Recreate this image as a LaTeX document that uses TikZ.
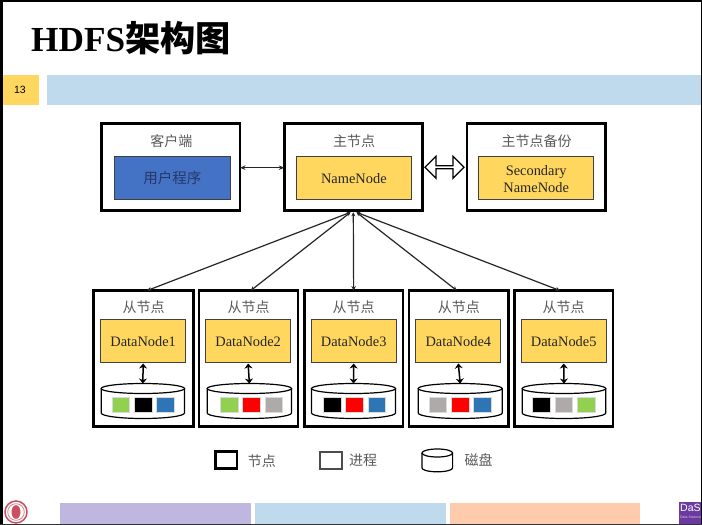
\documentclass[tikz,border=0pt]{standalone}
\usepackage{fontspec}
\setmainfont{Liberation Serif}
\setsansfont{Liberation Sans}
\newfontfamily\cjk{Noto Sans CJK SC}
\usetikzlibrary{arrows.meta,shapes.arrows}
\definecolor{gold}{HTML}{FFD75E}
\definecolor{bandblue}{HTML}{C0DAED}
\definecolor{appblue}{HTML}{4472C4}
\definecolor{apptext}{HTML}{26386B}
\definecolor{lav}{HTML}{BFB7E0}
\definecolor{peach}{HTML}{FFCBAD}
\definecolor{sgreen}{HTML}{92D050}
\definecolor{sblue}{HTML}{2E75B6}
\definecolor{sgray}{HTML}{AEAAAA}
\definecolor{lbl}{HTML}{5A5A5A}
\definecolor{seal}{HTML}{C8505F}
\definecolor{dasepurple}{HTML}{6B3AA0}
\tikzset{
  x=1pt,y=-1pt,
  outerbox/.style={draw=black,line width=2.7pt,fill=white,rectangle,inner sep=0pt,outer sep=0pt},
  procbox/.style={draw=black!75,line width=1pt,rectangle,inner sep=0pt,outer sep=0pt,align=center,text=black!85,font=\fontsize{14.4}{17.3}\selectfont},
  singleline/.style={text height=11.8pt,text depth=0pt},
  titlelbl/.style={font=\cjk\fontsize{14}{17}\selectfont,text=lbl,inner sep=0pt},
  dsk/.style={draw=black,line width=1.2pt,fill=white},
  conn/.style={draw=black!85,line width=1pt,{Stealth[length=5.5pt,width=4.5pt]}-{Stealth[length=5.5pt,width=4.5pt]}},
  fanconn/.style={draw=black!85,line width=1.2pt,{Stealth[length=4pt,width=4pt]}-{Stealth[length=4.5pt,width=4.5pt]}},
  vconn/.style={draw=black,line width=1.5pt,{Stealth[length=5pt,width=8pt]}-{Stealth[length=5pt,width=8pt]}},
  blockc/.style={draw=white!85!black,line width=.3pt,inner sep=0pt,outer sep=0pt,minimum width=17.6pt,minimum height=14.5pt,rectangle},
  band/.style={inner sep=0pt,outer sep=0pt,rectangle}
}
% box by corners: name, x1,y1,x2,y2, style
\newcommand{\boxat}[6]{\node[#6,minimum width={(#4)-(#2)},minimum height={(#5)-(#3)},anchor=north west] (#1) at (#2,#3) {};}
\newcommand{\disk}[3]{% name, x1, x2
  \path[dsk] (#2,388.5) -- (#2,413) arc[x radius={(#3-#2)/2},y radius=5.5,start angle=180,end angle=0] -- (#3,388.5);
  \draw[dsk] ({(#2+#3)/2},388.5) ellipse[x radius={(#3-#2)/2},y radius=5];
  \coordinate (#1) at ({(#2+#3)/2},383.5);}
\newcommand{\blocks}[7]{% x1 x2 x3 col1 col2 col3 prefix
  \node[blockc,fill=#4,anchor=north west] (#7a) at (#1,397.2) {};
  \node[blockc,fill=#5,anchor=north west] (#7b) at (#2,397.2) {};
  \node[blockc,fill=#6,anchor=north west] (#7c) at (#3,397.2) {};}
\newcommand{\dnode}[7]{% n x1 x2 ix1 ix2 dx1 dx2
  \boxat{out#1}{#2}{290.6}{#3}{426.4}{outerbox}
  \node[titlelbl] (ttl#1) at ({(#2+#3)/2},307.3) {从节点};
  \node[procbox,singleline,fill=gold,minimum width={(#5)-(#4)},minimum height=43.3pt,anchor=north west] (dn#1) at (#4,319.2) {DataNode#1};
  \disk{dsk#1}{#6}{#7}
  \draw[vconn] ([yshift=-1pt]dn#1.south) -- (dsk#1);
}
\begin{document}
\begin{tikzpicture}
\useasboundingbox (0,0) rectangle (702,525);
\fill[white] (0,0) rectangle (702,525);
% slide frame
\fill[black] (0,0) rectangle (702,2.2);
\fill[black] (0,0) rectangle (3,525);
\fill[black] (701,0) rectangle (702,525);
\fill[black!80] (0,523.5) rectangle (702,525);
% title
\node[anchor=base west,inner sep=0pt,font=\fontsize{35.2}{40}\selectfont\bfseries] (title) at (31,51) {HDFS{\cjk 架构图}};
% bands
\boxat{num}{3}{75.3}{39.3}{104.7}{band,fill=gold}
\node[font=\sffamily\fontsize{10.5}{12}\selectfont,inner sep=0pt] (numt) at (20,90) {13};
\boxat{topband}{46.7}{75.3}{701}{104.7}{band,fill=bandblue}
% top row
\boxat{client}{101.3}{123.8}{240}{210.8}{outerbox}
\node[titlelbl] (clientt) at (171.3,140.8) {客户端};
\node[procbox,fill=appblue,text=apptext,minimum width=115.7pt,minimum height=43pt,anchor=north west,font=\cjk\fontsize{14.5}{17}\selectfont] (app) at (114.5,156.2) {用户程序};
\boxat{master}{284.3}{123.8}{422.7}{210.8}{outerbox}
\node[titlelbl] (mastert) at (354,141) {主节点};
\node[procbox,singleline,fill=gold,minimum width=115.3pt,minimum height=43pt,anchor=north west] (nn) at (296.2,156.2) {NameNode};
\boxat{backup}{467}{123.8}{605.4}{210.8}{outerbox}
\node[titlelbl] (backupt) at (536.5,141.5) {主节点备份};
\node[procbox,fill=gold,minimum width=115.3pt,minimum height=43pt,anchor=north west] (snn) at (478.5,156.2) {\rule{0pt}{12.8pt}Secondary\\NameNode};
\coordinate (cr) at (client.east |- 0,167.7);
\coordinate (ml) at (master.west |- 0,167.7);
\draw[conn] (cr) -- (ml);
\node[shape=double arrow,draw=black,line width=1.3pt,fill=white,minimum width=22pt,double arrow head extend=4pt,minimum height=39pt,inner sep=0pt,outer sep=0pt] (dbl) at (444.5,167.3) {};
% data nodes
\dnode{1}{93.6}{193.4}{100.8}{185.5}{101.2}{184.5}
\blocks{111.9}{134.2}{156.4}{sgreen}{black}{sblue}{a}
\dnode{2}{199}{298}{205.8}{290.5}{207.2}{291.5}
\blocks{220.2}{242.6}{265}{sgreen}{red}{sgray}{b}
\dnode{3}{304.3}{403}{311.2}{396.2}{311.5}{395.5}
\blocks{323.2}{345.5}{368}{black}{red}{sblue}{c}
\dnode{4}{409}{508.7}{415.8}{500.8}{418.2}{502.2}
\blocks{429}{451.2}{473.6}{sgray}{red}{sblue}{d}
\dnode{5}{514.3}{613}{521.2}{606.2}{522.2}{605.8}
\blocks{532.5}{554.8}{577.2}{black}{sgray}{sgreen}{e}
% fan-out
\coordinate (fanl) at (350.5,212.3);
\coordinate (fanm) at (353.3,212.3);
\coordinate (fanr) at (356.5,212.3);
\draw[fanconn] (fanl) -- ([xshift=3.5pt]out1.north);
\draw[fanconn] (fanl) -- ([xshift=2.2pt]out2.north);
\draw[fanconn] (fanm) -- (out3.north);
\draw[fanconn] (fanr) -- ([xshift=-2pt]out4.north);
\draw[fanconn] (fanr) -- ([xshift=-3.6pt]out5.north);
% legend
\boxat{lgn}{215.6}{451.3}{237}{468.7}{outerbox}
\node[titlelbl,anchor=west] (lgnt) at (247.7,460.7) {节点};
\boxat{lgp}{320}{452}{342}{469}{rectangle,draw=black!70,line width=1.3pt,inner sep=0pt,outer sep=0pt}
\node[titlelbl,anchor=west] (lgpt) at (349,460.7) {进程};
\path[dsk] (422,453) -- (422,468) arc[x radius=15.3,y radius=3.8,start angle=180,end angle=0] -- (452.6,453);
\draw[dsk] (437.3,453) ellipse[x radius=15.3,y radius=4];
\node[titlelbl,anchor=west] (lgdt) at (464.3,460.3) {磁盘};
% footer
\boxat{fa}{60.4}{502.5}{251.2}{523.5}{band,fill=lav}
\boxat{fb}{255.2}{502.5}{445.6}{523.5}{band,fill=bandblue}
\boxat{fc}{449.6}{502.5}{640.4}{523.5}{band,fill=peach}
% logos
\begin{scope}
\clip (3,498) rectangle (40,523.5);
\draw[seal,line width=1.5pt,fill=white] (16,512) circle[radius=11];
\draw[seal!70,line width=.8pt] (16,512) circle[radius=8.3];
\fill[seal] (16,512) ellipse[x radius=4.5,y radius=6.8];
\end{scope}
\fill[dasepurple] (679,502) rectangle (701,523.5);
\node[anchor=north west,inner sep=0pt,text=white,font=\sffamily\fontsize{10.5}{12}\selectfont] (dase) at (680,503.5) {DaS};
\node[anchor=north west,inner sep=0pt,text=white!80!violet,font=\sffamily\fontsize{3.5}{4}\selectfont] (dases) at (680,515.5) {Data Science};
\end{tikzpicture}
\end{document}
